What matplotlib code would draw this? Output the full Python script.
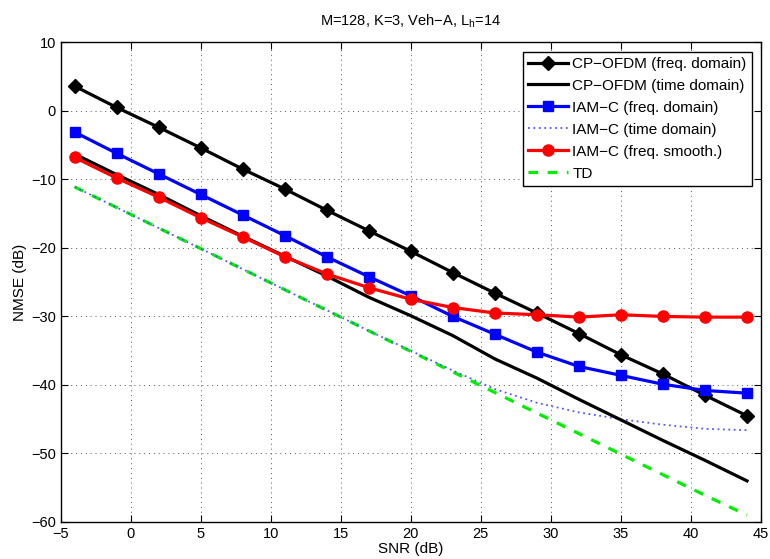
import matplotlib
matplotlib.use("Agg")
import matplotlib.pyplot as plt

snr = [-4, -1, 2, 5, 8, 11, 14, 17, 20, 23, 26, 29, 32, 35, 38, 41, 44]

cp_freq = [3.6, 0.5, -2.4, -5.4, -8.5, -11.4, -14.5, -17.5, -20.5, -23.6,
           -26.6, -29.5, -32.5, -35.6, -38.4, -41.5, -44.5]
cp_time = [-6.3, -9.3, -12.2, -15.3, -18.3, -21.2, -24.1, -27.2, -29.9, -32.8,
           -36.2, -39.0, -42.1, -45.1, -48.1, -51.0, -54.0]
iam_freq = [-3.1, -6.2, -9.2, -12.2, -15.2, -18.2, -21.3, -24.2, -27.0, -30.0,
            -32.6, -35.2, -37.3, -38.6, -39.9, -40.8, -41.2]
iam_time = [-11.1, -14.1, -17.1, -20.1, -23.1, -26.1, -29.1, -32.1, -35.0, -37.9,
            -40.6, -42.6, -44.0, -45.0, -45.8, -46.4, -46.6]
iam_smooth = [-6.8, -9.8, -12.6, -15.6, -18.4, -21.3, -23.8, -25.8, -27.5, -28.7,
              -29.5, -29.75, -30.1, -29.75, -30.0, -30.1, -30.1]
td = [-11.1, -14.1, -17.1, -20.1, -23.1, -26.1, -29.1, -32.1, -35.1, -38.1,
      -41.1, -44.1, -47.1, -50.1, -53.1, -56.1, -59.0]

labels = ["CP\u2212OFDM (freq. domain)", "CP\u2212OFDM (time domain)",
          "IAM\u2212C (freq. domain)", "IAM\u2212C (time domain)",
          "IAM\u2212C (freq. smooth.)", "TD"]

plt.rcParams['font.family'] = ['Liberation Sans', 'DejaVu Sans']
plt.rcParams['font.size'] = 10.5
plt.rcParams['mathtext.fontset'] = 'custom'
plt.rcParams['mathtext.rm'] = 'Liberation Sans'

fig = plt.figure(figsize=(7.7, 5.59), dpi=100)
ax = fig.add_axes([0.0788, 0.0662, 0.9095, 0.858])

lw = 2.3
ax.plot(snr, cp_freq, color='black', lw=lw, marker='D', ms=7, label=labels[0], zorder=5)
ax.plot(snr, cp_time, color='black', lw=lw, label=labels[1], zorder=4)
ax.plot(snr, iam_freq, color='blue', lw=lw, marker='s', ms=6.5, label=labels[2], zorder=5)
ax.plot(snr, iam_time, color='#5555ff', lw=1.3, ls=(0, (1, 2)), label=labels[3], zorder=3)
ax.plot(snr, iam_smooth, color='red', lw=lw, marker='o', ms=8, label=labels[4], zorder=6)
ax.plot(snr, td, color='#00ee00', lw=lw, ls=(0, (3, 3)), label=labels[5], zorder=2)

ax.set_xlim(-5, 45)
ax.set_ylim(-60, 10)
ax.set_xticks(range(-5, 46, 5))
ax.set_yticks(range(-60, 11, 10))
ax.grid(True, ls=(0, (1, 4)), color='#555555', lw=0.7)
ax.tick_params(direction='in', top=True, right=True, length=5, width=0.8, labelsize=10.5)
for s in ax.spines.values():
    s.set_linewidth(1.0)

ax.set_xlabel("SNR (dB)", fontsize=11, labelpad=1)
ax.set_ylabel("NMSE (dB)", fontsize=11, labelpad=3)
ax.set_title("M=128, K=3, Veh\u2212A, L$_\\mathrm{h}$=14", fontsize=10.5, pad=12)

leg = ax.legend(loc='upper right', fontsize=11, handlelength=2.6, borderpad=0.35,
                labelspacing=0.52, handletextpad=0.3, fancybox=False, framealpha=1,
                edgecolor='black', borderaxespad=0.6)
leg.get_frame().set_linewidth(1.0)

fig.savefig("out.png", dpi=100)
